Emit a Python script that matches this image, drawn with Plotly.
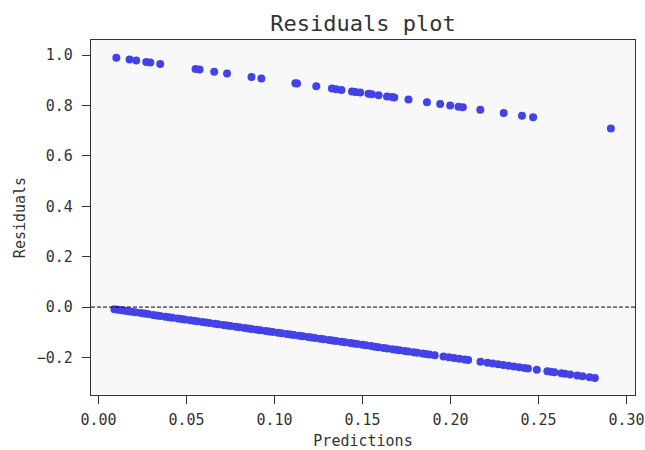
import plotly.graph_objects as go

# Predictions for observations whose actual label is 1
preds_pos = [0.0101, 0.0176, 0.0214, 0.0271, 0.0294, 0.0350, 0.0551, 0.0574, 0.0657, 0.0730,
             0.0869, 0.0925, 0.1118, 0.1128, 0.1237, 0.1326, 0.1350, 0.1380, 0.1440, 0.1460,
             0.1487, 0.1534, 0.1553, 0.1591, 0.1639, 0.1667, 0.1680, 0.1761, 0.1866, 0.1941,
             0.1998, 0.2045, 0.2070, 0.2169, 0.2302, 0.2406, 0.2469, 0.2911]
# Predictions for observations whose actual label is 0
preds_neg = [0.009, 0.011, 0.013, 0.015, 0.017, 0.019, 0.021, 0.024, 0.026, 0.028, 0.031, 0.033,
             0.035, 0.038, 0.040, 0.042, 0.045, 0.047, 0.049, 0.052, 0.054, 0.056, 0.059, 0.061,
             0.063, 0.066, 0.068, 0.071, 0.073, 0.075, 0.078, 0.080, 0.083, 0.085, 0.087, 0.090,
             0.092, 0.095, 0.097, 0.099, 0.102, 0.104, 0.107, 0.109, 0.111, 0.114, 0.116, 0.119,
             0.121, 0.123, 0.126, 0.128, 0.131, 0.133, 0.135, 0.138, 0.140, 0.143, 0.145, 0.147,
             0.150, 0.152, 0.155, 0.157, 0.159, 0.162, 0.164, 0.167, 0.169, 0.171, 0.174, 0.176,
             0.179, 0.181, 0.184, 0.186, 0.188, 0.191, 0.196, 0.199, 0.202, 0.205, 0.208, 0.210,
             0.217, 0.221, 0.224, 0.227, 0.230, 0.233, 0.236, 0.239, 0.242, 0.244, 0.249, 0.255,
             0.257, 0.259, 0.263, 0.265, 0.268, 0.272, 0.275, 0.279, 0.282]
actual_pos = [1] * len(preds_pos)
actual_neg = [0] * len(preds_neg)

x_ticks = [0.00, 0.05, 0.10, 0.15, 0.20, 0.25, 0.30]
y_ticks = [-0.2, 0.0, 0.2, 0.4, 0.6, 0.8, 1.0]

preds = preds_pos + preds_neg
actual = actual_pos + actual_neg
residuals = [a - p for a, p in zip(actual, preds)]

FONT = "DejaVu Sans Mono"
TXT = "#333333"

fig = go.Figure()
fig.add_trace(go.Scatter(
    x=preds, y=residuals, mode="markers",
    marker=dict(color="rgb(66,66,232)", size=8, line=dict(width=0)),
    showlegend=False, hoverinfo="skip"))

fig.add_shape(type="line", xref="paper", yref="y", x0=0, x1=1, y0=0, y1=0,
              line=dict(color="black", width=1, dash="4px,2px"))

axis_common = dict(showline=True, mirror=True, linecolor="#333333", linewidth=1.2,
                   ticks="outside", ticklen=8, tickwidth=1, tickcolor="#333333",
                   showgrid=False, zeroline=False, ticklabeloverflow="allow",
                   automargin=False,
                   tickfont=dict(family=FONT, size=15, color=TXT))

fig.update_layout(
    width=645, height=450,
    margin=dict(l=91, r=10, t=40, b=55),
    paper_bgcolor="white", plot_bgcolor="#f8f8f8",
    font=dict(family=FONT, color=TXT),
    title=dict(text="Residuals plot", x=(91 + 635) / 2 / 645, xanchor="center",
               y=1 - 23 / 450, yanchor="middle", yref="container",
               font=dict(family=FONT, size=22, color=TXT)),
    xaxis=dict(range=[-0.0043, 0.3048], tickvals=x_ticks,
               ticktext=[f"{v:.2f}" for v in x_ticks], ticklabelstandoff=3,
               title=dict(text="Predictions", font=dict(family=FONT, size=15, color=TXT), standoff=7),
               **axis_common),
    yaxis=dict(range=[-0.349, 1.06], tickvals=y_ticks,
               ticktext=[f"{v:.1f}".replace("-", "\u2212") for v in y_ticks], ticklabelstandoff=6,
               title=dict(text="Residuals", font=dict(family=FONT, size=15, color=TXT), standoff=7),
               **axis_common),
)

fig.write_html("out.html", config={"displayModeBar": False},
               post_script="document.body.style.margin='0';document.body.style.overflow='hidden';")
